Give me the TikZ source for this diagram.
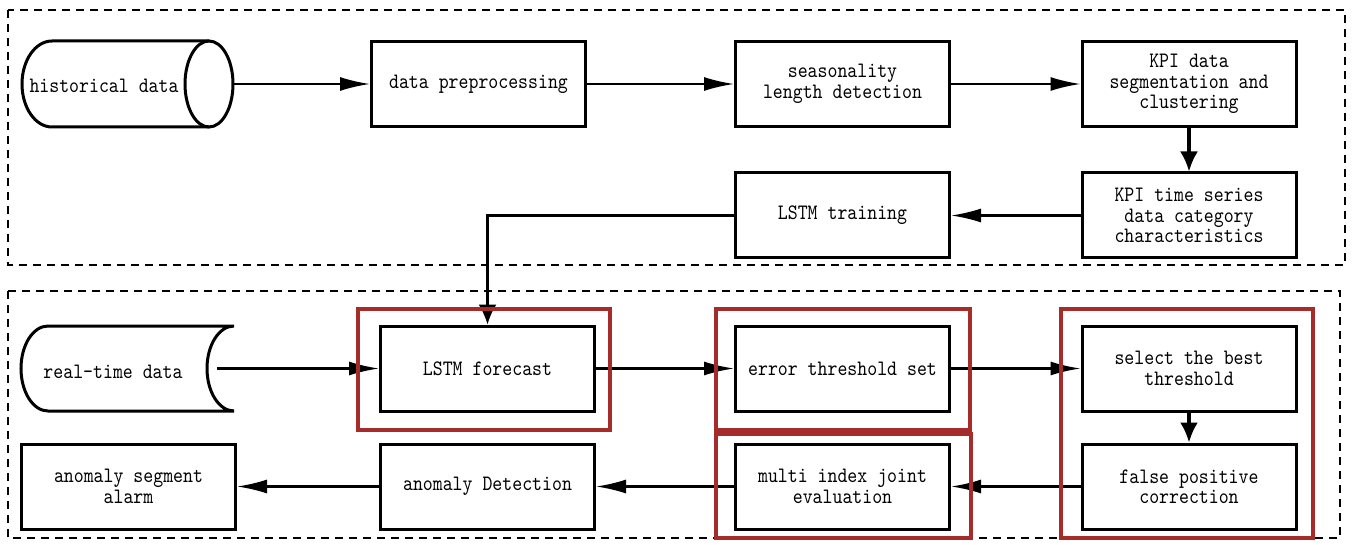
\documentclass[tikz,border=0pt]{standalone}
\usepackage{fontspec}
\setmonofont[FakeStretch=0.86]{Latin Modern Mono}
\usetikzlibrary{arrows.meta}
\begin{document}
\lineskiplimit=-100pt
\begin{tikzpicture}[x=0.5pt,y=0.5pt,
    stepbox/.style={draw,line width=1.5pt,minimum width=107pt,minimum height=42.5pt,align=center,inner sep=0pt},
    txt/.style={font=\ttfamily\fontsize{11}{10.2}\selectfont},
    arr/.style={line width=1.1pt,-{Latex[length=15pt,width=7pt]}},
    darr/.style={line width=1.6pt,-{Latex[length=10pt,width=9pt]}},
    redbox/.style={draw={rgb,255:red,166;green,44;blue,44},line width=1.6pt},
    frame/.style={dashed,line width=1pt,dash pattern=on 4pt off 3pt},
    every node/.style={txt}]
\useasboundingbox (0,0) rectangle (1354,-545);

%% training part
    \draw[frame] (8,-10) rectangle (1345,-265);
    \draw[line width=1.5pt] (209,-41) -- (52,-41) arc[start angle=90,end angle=270,x radius=30,y radius=43] -- (209,-127);
    \draw[line width=1.5pt] (209,-84) ellipse[x radius=24,y radius=43];
    \node (hist) at (104,-86) {historical data};
    \coordinate (histout) at (233,-84);
    \node[stepbox] (pre) at (478.5,-84) {data preprocessing};
    \node[stepbox] (seas) at (842.5,-84) {seasonality\\length detection};
    \node[stepbox] (seg) at (1189,-84) {KPI data\\segmentation and\\clustering};
    \node[stepbox] (kts) at (1189,-215.5) {KPI time series\\data category\\characteristics};
    \node[stepbox] (train) at (842.5,-215.5) {LSTM training};

    \draw[arr] (histout) -- (pre);
    \draw[arr] (pre) -- (seas);
    \draw[arr] (seas) -- (seg);
    \draw[darr] (seg) -- (kts);
    \draw[arr] (kts) -- (train);

%% detection part
    \draw[frame] (8,-291) rectangle (1340,-538);
    \draw[line width=1.5pt] (234,-326) -- (48,-326) arc[start angle=90,end angle=270,x radius=27,y radius=42.5] -- (234,-411) arc[start angle=270,end angle=90,x radius=27,y radius=42.5];
    \node (rt) at (113,-372) {real-time data};
    \coordinate (rtout) at (217,-368.5);
    \node[stepbox] (fc) at (487.5,-368.5) {LSTM forecast};
    \node[stepbox] (err) at (842.5,-368.5) {error threshold set};
    \node[stepbox] (sel) at (1189,-368.5) {select the best\\threshold};
    \node[stepbox] (fp) at (1189,-486.5) {false positive\\correction};
    \node[stepbox] (multi) at (842.5,-486.5) {multi index joint\\evaluation};
    \node[stepbox] (det) at (487.5,-486.5) {anomaly Detection};
    \node[stepbox] (alarm) at (128.5,-486.5) {anomaly segment\\alarm};

    \draw[darr,line width=1.1pt] (train) -| (fc);
    \draw[arr] (rtout) -- (fc);
    \draw[arr] (fc) -- (err);
    \draw[arr] (err) -- (sel);
    \draw[darr] (sel) -- (fp);
    \draw[arr] (fp) -- (multi);
    \draw[arr] (multi) -- (det);
    \draw[arr] (det) -- (alarm);

    \draw[redbox] (358,-309) rectangle (610,-430);
    \draw[redbox] (716,-309) rectangle (970,-430);
    \draw[redbox] (716,-434) rectangle (971,-538);
    \draw[redbox] (1061,-309) rectangle (1313,-538);

\end{tikzpicture}
\end{document}
